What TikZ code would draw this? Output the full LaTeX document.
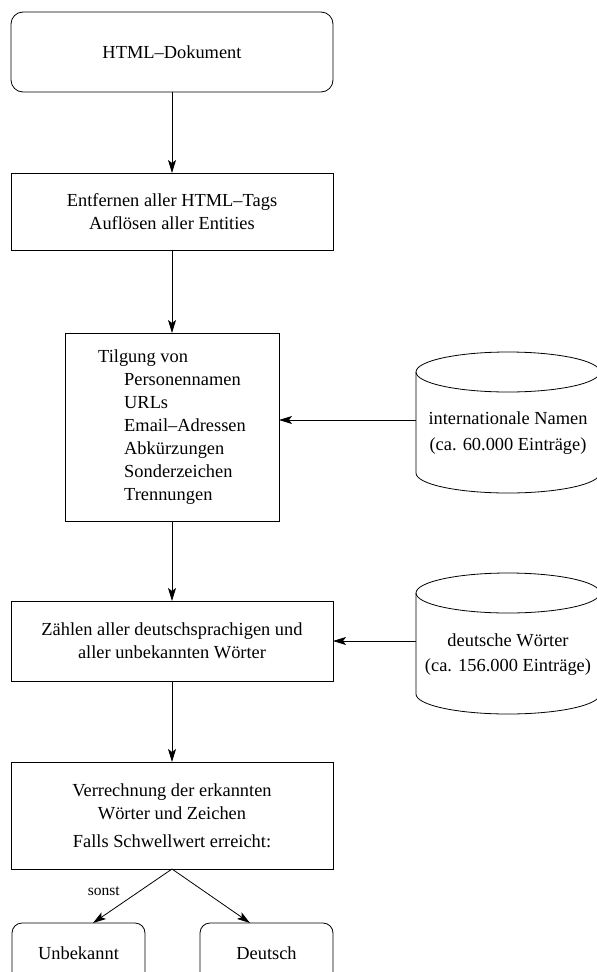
\documentclass[tikz,border=0pt]{standalone}
\usepackage{fontspec}
\setmainfont{Liberation Serif}
\usetikzlibrary{arrows.meta,positioning,calc}

\tikzset{
    procbox/.style={draw, rectangle, minimum width=322pt, inner sep=0pt, outer sep=0pt, align=center},
    endbox/.style={draw, rectangle, rounded corners=12pt, inner sep=0pt, outer sep=0pt, align=center},
    flow/.style={-{Stealth[length=13pt, width=8pt, inset=3pt]}},
    dbtext/.style={align=center, inner sep=0pt}
}

\begin{document}
\begin{tikzpicture}[x=1pt, y=-1pt, line width=0.8pt, font=\fontsize{18.4pt}{23pt}\selectfont]
    \useasboundingbox (0,0) rectangle (597,972);

    % Main processing chain
    \node[endbox, minimum width=322pt, minimum height=80pt] (doc) at (172,52) {HTML–Dokument};
    \node[procbox, minimum height=77pt] (strip) at (172,211.5) {Entfernen aller HTML–Tags\\Auflösen aller Entities};
    \node[procbox, minimum width=214pt, minimum height=188pt, align=left] (tilg) at (172,427) {
        Tilgung von\\
        \hspace*{26pt}Personennamen\\
        \hspace*{26pt}URLs\\
        \hspace*{26pt}Email–Adressen\\
        \hspace*{26pt}Abkürzungen\\
        \hspace*{26pt}Sonderzeichen\\
        \hspace*{26pt}Trennungen};
    \node[procbox, minimum height=80pt] (count) at (172,641) {Zählen aller deutschsprachigen und\\aller unbekannten Wörter};
    \node[procbox, minimum height=107pt] (verr) at (172,815.5) {Verrechnung der erkannten\\Wörter und Zeichen\\[5pt]Falls Schwellwert erreicht:};

    % Results
    \node[endbox, rounded corners=10pt, minimum width=133pt, minimum height=60pt] (unb) at (78.5,953) {Unbekannt};
    \node[endbox, rounded corners=10pt, minimum width=133pt, minimum height=60pt] (deu) at (266.5,953) {Deutsch};

    % Dictionaries (cylinders)
    \foreach \cy in {372,593} {
        \draw (508,\cy) ellipse [x radius=92pt, y radius=20pt];
        \draw (416,\cy) -- (416,\cy+101) arc[start angle=180, end angle=360, x radius=92pt, y radius=20pt] -- (600,\cy);
    }
    \node[dbtext] (names) at (508,433) {internationale Namen\\[3pt](ca. 60.000 Einträge)};
    \node[dbtext] (words) at (508,654.5) {deutsche Wörter\\[2pt](ca. 156.000 Einträge)};
    \coordinate (namesin) at (416,420);
    \coordinate (wordsin) at (416,641);

    % Arrows
    \draw[flow] (doc) -- (strip);
    \draw[flow] (strip) -- (tilg);
    \draw[flow] (tilg) -- (count);
    \draw[flow] (count) -- (verr);
    \draw[flow] (namesin) -- (namesin -| tilg.east);
    \draw[flow] (wordsin) -- (wordsin -| count.east);
    \draw[flow] (verr.south) -- ([xshift=14.5pt]unb.north)
        node[midway, anchor=east, xshift=-9pt, yshift=5pt, font=\fontsize{15.5pt}{18pt}\selectfont] {sonst};
    \draw[flow] (verr.south) -- ([xshift=-16.5pt]deu.north);
\end{tikzpicture}
\end{document}
